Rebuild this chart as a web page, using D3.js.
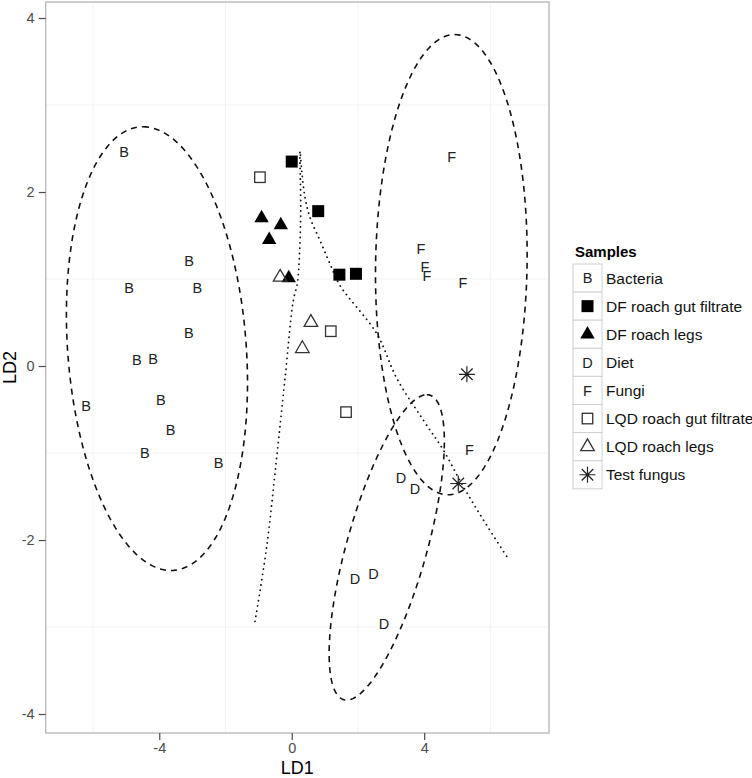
<!DOCTYPE html>
<html>
<head>
<meta charset="utf-8">
<script src="https://cdn.jsdelivr.net/npm/d3@7"></script>
<style>
  body { margin: 0; background: #fff; }
  svg { display: block; font-family: "Liberation Sans", Arial, sans-serif; }
</style>
</head>
<body>
<div id="chart"></div>
<script>
// LDA scores, one array per sample group
var sampleGroups = ['Bacteria', 'DF roach gut filtrate', 'DF roach legs', 'Diet', 'Fungi',
    'LQD roach gut filtrate', 'LQD roach legs', 'Test fungus'];
var groupShapes = ['B', 'filledSquare', 'filledTriangle', 'D', 'F', 'openSquare', 'openTriangle', 'asterisk'];

var bacteria = [[-5.06, 2.46], [-3.10, 1.21], [-4.91, 0.90], [-2.85, 0.90], [-3.11, 0.38], [-4.68, 0.07],
    [-4.19, 0.085], [-6.21, -0.46], [-3.95, -0.39], [-3.66, -0.73], [-4.44, -1.0], [-2.21, -1.11]];
var dfGutFiltrate = [[0.0, 2.35], [0.80, 1.78], [1.44, 1.05], [1.94, 1.06]];
var dfLegs = [[-0.91, 1.70], [-0.33, 1.62], [-0.68, 1.45], [-0.09, 1.01]];
var diet = [[3.30, -1.28], [3.72, -1.41], [1.91, -2.45], [2.47, -2.39], [2.79, -2.96]];
var fungi = [[4.83, 2.40], [3.90, 1.35], [4.02, 1.14], [4.08, 1.04], [5.17, 0.96], [5.37, -0.96]];
var lqdGutFiltrate = [[-0.96, 2.17], [1.18, 0.40], [1.64, -0.53]];
var lqdLegs = [[-0.35, 1.02], [0.58, 0.50], [0.32, 0.20]];
var testFungus = [[5.29, -0.095], [5.03, -1.35]];
var groupPoints = [bacteria, dfGutFiltrate, dfLegs, diet, fungi, lqdGutFiltrate, lqdLegs, testFungus];

// dashed ellipses: centre, offset to the top point, half width
var ellipseCentres = [[-4.07, 0.2], [4.82, 1.165], [2.87, -2.085]];
var ellipseTops = [[-0.42, 2.55], [0.10, 2.645], [1.21, 1.755]];
var ellipseHalfWidths = [2.735, 2.29, 1.74];

// dotted curve, read point by point
var dottedCurve = [[-1.109, -2.936], [-0.755, -2.076], [-0.453, -1.044], [-0.202, -0.141], [0.048, 0.753],
    [0.169, 0.948], [0.230, 1.247], [0.272, 1.786], [0.251, 2.466], [0.302, 2.244], [0.402, 1.938],
    [0.551, 1.709], [0.855, 1.442], [1.157, 1.174], [1.459, 0.925], [2.568, 0.372], [3.172, -0.141],
    [3.976, -0.623], [4.580, -0.967], [5.184, -1.388], [5.789, -1.770], [6.495, -2.190]];

var xTicks = [-4, 0, 4];
var yTicks = [-4, -2, 0, 2, 4];
var xMinor = [-6, -2, 2, 6];
var yMinor = [-3, -1, 1, 3];

var width = 752, height = 778;
var panel = { left: 45.7, right: 549, top: 2, bottom: 733 };

var x = d3.scaleLinear().domain([-7.43, 7.77]).range([panel.left, panel.right]);
var y = d3.scaleLinear().domain([-4.218, 4.184]).range([panel.bottom, panel.top]);

var svg = d3.select('#chart').append('svg')
    .attr('width', width)
    .attr('height', height);

// grid
var grid = svg.append('g');
grid.selectAll('line.gx').data(xMinor).enter().append('line')
    .attr('x1', function (d) { return x(d); }).attr('x2', function (d) { return x(d); })
    .attr('y1', panel.top).attr('y2', panel.bottom)
    .attr('stroke', '#f3f3f3').attr('stroke-width', 1);
grid.selectAll('line.gy').data(yMinor).enter().append('line')
    .attr('y1', function (d) { return y(d); }).attr('y2', function (d) { return y(d); })
    .attr('x1', panel.left).attr('x2', panel.right)
    .attr('stroke', '#f3f3f3').attr('stroke-width', 1);

// ellipses
var line = d3.line()
    .x(function (d) { return x(d[0]); })
    .y(function (d) { return y(d[1]); });
var angles = d3.range(0, 2 * Math.PI + 0.001, Math.PI / 90);

ellipseCentres.forEach(function (c, i) {
    var u = ellipseTops[i],
        vx = Math.sqrt(ellipseHalfWidths[i] * ellipseHalfWidths[i] - u[0] * u[0]);
    var pts = angles.map(function (t) {
        return [c[0] + u[0] * Math.cos(t) + vx * Math.sin(t), c[1] + u[1] * Math.cos(t)];
    });
    svg.append('path')
        .attr('d', line(pts))
        .attr('fill', 'none')
        .attr('stroke', '#111')
        .attr('stroke-width', 1.6)
        .attr('stroke-dasharray', '6,5');
});

svg.append('path')
    .attr('d', line.curve(d3.curveCatmullRom)(dottedCurve))
    .attr('fill', 'none')
    .attr('stroke', '#111')
    .attr('stroke-width', 1.8)
    .attr('stroke-linecap', 'round')
    .attr('stroke-dasharray', '0.1,5.2');

// draw one point marker into a group translated to its centre
function drawShape(g, shape) {
    if (shape === 'filledSquare' || shape === 'openSquare') {
        var filled = shape === 'filledSquare', s = filled ? 12 : 10.5;
        g.append('rect')
            .attr('x', -s / 2).attr('y', -s / 2).attr('width', s).attr('height', s)
            .attr('fill', filled ? '#000' : 'none')
            .attr('stroke', filled ? 'none' : '#333')
            .attr('stroke-width', 1.3);
    } else if (shape === 'filledTriangle' || shape === 'openTriangle') {
        var f = shape === 'filledTriangle';
        g.append('path')
            .attr('d', d3.symbol().type(d3.symbolTriangle).size(f ? 90 : 80)())
            .attr('fill', f ? '#000' : 'none')
            .attr('stroke', f ? 'none' : '#333')
            .attr('stroke-width', 1.3);
    } else if (shape === 'asterisk') {
        var r = 8, d = r * 0.72;
        g.append('path')
            .attr('d', 'M' + (-r) + ',0L' + r + ',0M0,' + (-r) + 'L0,' + r +
                'M' + (-d) + ',' + (-d) + 'L' + d + ',' + d + 'M' + (-d) + ',' + d + 'L' + d + ',' + (-d))
            .attr('stroke', '#222')
            .attr('stroke-width', 1.2)
            .attr('fill', 'none');
    } else {
        g.append('text')
            .attr('text-anchor', 'middle')
            .attr('dy', '0.36em')
            .attr('font-size', 14.5)
            .attr('fill', '#222')
            .text(shape);
    }
}

groupPoints.forEach(function (pts, i) {
    svg.append('g').selectAll('g').data(pts).enter().append('g')
        .attr('transform', function (d) { return 'translate(' + x(d[0]) + ',' + y(d[1]) + ')'; })
        .each(function () { drawShape(d3.select(this), groupShapes[i]); });
});

// panel border
svg.append('rect')
    .attr('x', panel.left).attr('y', panel.top)
    .attr('width', panel.right - panel.left).attr('height', panel.bottom - panel.top)
    .attr('fill', 'none').attr('stroke', '#b5b5b5').attr('stroke-width', 1.3);

// axes, with a plain hyphen for negatives like the original
var plain = function (d) { return String(d); };
var xAxis = svg.append('g')
    .attr('transform', 'translate(0,' + panel.bottom + ')')
    .call(d3.axisBottom(x).tickValues(xTicks).tickSize(7).tickPadding(3).tickFormat(plain));
var yAxis = svg.append('g')
    .attr('transform', 'translate(' + panel.left + ',0)')
    .call(d3.axisLeft(y).tickValues(yTicks).tickSize(7).tickPadding(4).tickFormat(plain));

[xAxis, yAxis].forEach(function (a) {
    a.select('.domain').remove();
    a.selectAll('.tick line').attr('stroke', '#4d4d4d').attr('stroke-width', 1.2);
    a.selectAll('.tick text')
        .attr('font-size', 14.5)
        .attr('fill', '#4d4d4d')
        .attr('font-family', '"Liberation Sans", Arial, sans-serif');
});

svg.append('text')
    .attr('x', (panel.left + panel.right) / 2)
    .attr('y', 774)
    .attr('text-anchor', 'middle')
    .attr('font-size', 18)
    .text('LD1');

svg.append('text')
    .attr('transform', 'translate(16,' + (panel.top + panel.bottom) / 2 + ') rotate(-90)')
    .attr('text-anchor', 'middle')
    .attr('font-size', 18)
    .text('LD2');

// legend
var legend = svg.append('g').attr('transform', 'translate(573,264)');
var keySize = 28.1;

legend.append('text')
    .attr('x', 2).attr('y', -7)
    .attr('font-size', 15)
    .attr('font-weight', 'bold')
    .text('Samples');

var keys = legend.selectAll('g.key').data(sampleGroups).enter().append('g')
    .attr('transform', function (d, i) { return 'translate(0,' + i * keySize + ')'; });

keys.append('rect')
    .attr('width', 29).attr('height', keySize)
    .attr('fill', '#fff').attr('stroke', '#d0d0d0').attr('stroke-width', 1);

keys.append('g')
    .attr('transform', 'translate(14.5,' + keySize / 2 + ')')
    .each(function (d, i) { drawShape(d3.select(this), groupShapes[i]); });

keys.append('text')
    .attr('x', 33).attr('y', keySize / 2)
    .attr('dy', '0.36em')
    .attr('font-size', 15.5)
    .attr('fill', '#111')
    .text(function (d) { return d; });
</script>
</body>
</html>
